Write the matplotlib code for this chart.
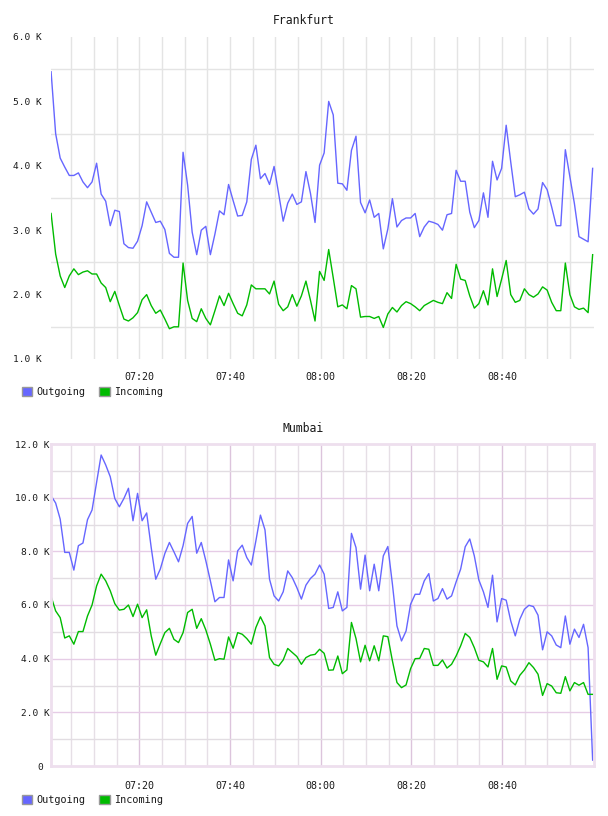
import numpy as np
import matplotlib
matplotlib.use("Agg")
import matplotlib.pyplot as plt
from matplotlib.patches import Patch

plt.rcParams['font.family'] = ['DejaVu Sans Mono']

# one sample per minute, minutes after 07:00
n_samples = 120
minutes = np.linspace(0.55, 120.0, n_samples)

# Frankfurt, in K
fra_out = [5.46, 4.50, 4.12, 3.98, 3.85, 3.85, 3.89, 3.75, 3.66, 3.75,
           4.04, 3.56, 3.45, 3.07, 3.31, 3.29, 2.79, 2.73, 2.72, 2.83,
           3.07, 3.44, 3.28, 3.12, 3.14, 3.01, 2.64, 2.58, 2.58, 4.21,
           3.70, 2.97, 2.62, 3.00, 3.06, 2.62, 2.94, 3.30, 3.24, 3.71,
           3.46, 3.22, 3.23, 3.44, 4.10, 4.32, 3.80, 3.88, 3.71, 3.99,
           3.57, 3.14, 3.42, 3.56, 3.40, 3.44, 3.91, 3.57, 3.12, 4.01,
           4.20, 5.00, 4.79, 3.73, 3.72, 3.62, 4.24, 4.46, 3.43, 3.27,
           3.47, 3.20, 3.26, 2.71, 3.02, 3.49, 3.05, 3.15, 3.19, 3.19,
           3.26, 2.90, 3.05, 3.14, 3.12, 3.09, 3.00, 3.24, 3.26, 3.93,
           3.76, 3.76, 3.28, 3.04, 3.15, 3.58, 3.20, 4.07, 3.78, 3.96,
           4.63, 4.06, 3.52, 3.55, 3.59, 3.33, 3.25, 3.33, 3.74, 3.63,
           3.36, 3.07, 3.07, 4.25, 3.83, 3.41, 2.90, 2.86, 2.82, 3.96]
fra_in = [3.26, 2.63, 2.29, 2.11, 2.29, 2.40, 2.31, 2.35, 2.37, 2.32,
          2.32, 2.18, 2.11, 1.89, 2.05, 1.83, 1.62, 1.59, 1.64, 1.72,
          1.92, 2.00, 1.83, 1.71, 1.76, 1.62, 1.47, 1.50, 1.50, 2.49,
          1.91, 1.63, 1.58, 1.78, 1.63, 1.53, 1.75, 1.98, 1.83, 2.02,
          1.86, 1.71, 1.67, 1.84, 2.15, 2.09, 2.09, 2.09, 2.01, 2.21,
          1.85, 1.75, 1.81, 2.00, 1.82, 1.98, 2.21, 1.91, 1.59, 2.36,
          2.22, 2.70, 2.26, 1.81, 1.84, 1.78, 2.14, 2.09, 1.65, 1.66,
          1.66, 1.63, 1.66, 1.49, 1.70, 1.80, 1.73, 1.83, 1.89, 1.86,
          1.81, 1.75, 1.83, 1.87, 1.91, 1.88, 1.86, 2.03, 1.94, 2.47,
          2.24, 2.22, 1.98, 1.79, 1.86, 2.06, 1.84, 2.40, 1.97, 2.24,
          2.53, 2.00, 1.88, 1.91, 2.09, 2.00, 1.96, 2.01, 2.12, 2.07,
          1.88, 1.75, 1.75, 2.49, 2.00, 1.81, 1.77, 1.79, 1.72, 2.62]

# Mumbai, in K
bom_out = [10.07, 9.80, 9.20, 7.96, 7.96, 7.30, 8.21, 8.31, 9.18, 9.54,
           10.57, 11.59, 11.22, 10.78, 9.97, 9.66, 9.97, 10.35, 9.14, 10.16,
           9.14, 9.43, 8.14, 6.96, 7.34, 7.92, 8.33, 7.98, 7.61, 8.21,
           9.04, 9.30, 7.93, 8.33, 7.65, 6.90, 6.12, 6.28, 6.28, 7.68,
           6.90, 8.02, 8.23, 7.77, 7.49, 8.39, 9.35, 8.80, 6.96, 6.34,
           6.15, 6.49, 7.27, 7.02, 6.65, 6.22, 6.74, 6.99, 7.15, 7.49,
           7.15, 5.87, 5.91, 6.49, 5.78, 5.91, 8.67, 8.14, 6.59, 7.86,
           6.53, 7.52, 6.53, 7.83, 8.18, 6.78, 5.22, 4.66, 5.03, 6.03,
           6.40, 6.40, 6.90, 7.17, 6.15, 6.24, 6.61, 6.22, 6.34, 6.86,
           7.34, 8.17, 8.46, 7.83, 6.93, 6.49, 5.91, 7.11, 5.37, 6.24,
           6.18, 5.41, 4.85, 5.47, 5.84, 5.99, 5.94, 5.62, 4.33, 5.00,
           4.85, 4.51, 4.41, 5.59, 4.54, 5.10, 4.79, 5.28, 4.41, 0.22]
bom_in = [6.32, 5.78, 5.53, 4.77, 4.85, 4.54, 5.01, 5.01, 5.59, 6.00,
          6.71, 7.15, 6.90, 6.53, 6.05, 5.81, 5.84, 6.00, 5.57, 6.03,
          5.53, 5.82, 4.85, 4.13, 4.56, 4.97, 5.13, 4.72, 4.60, 4.97,
          5.72, 5.84, 5.13, 5.49, 5.07, 4.54, 3.94, 4.00, 3.98, 4.81,
          4.39, 4.97, 4.91, 4.75, 4.54, 5.16, 5.56, 5.22, 4.04, 3.79,
          3.73, 3.95, 4.38, 4.23, 4.08, 3.79, 4.04, 4.13, 4.16, 4.35,
          4.20, 3.57, 3.58, 4.10, 3.44, 3.58, 5.35, 4.75, 3.88, 4.50,
          3.92, 4.48, 3.92, 4.85, 4.82, 3.92, 3.11, 2.92, 3.02, 3.63,
          4.00, 4.01, 4.38, 4.35, 3.75, 3.75, 3.95, 3.65, 3.79, 4.10,
          4.48, 4.94, 4.79, 4.41, 3.94, 3.88, 3.69, 4.38, 3.23, 3.73,
          3.69, 3.17, 3.02, 3.38, 3.58, 3.85, 3.67, 3.42, 2.63, 3.07,
          2.98, 2.73, 2.71, 3.33, 2.80, 3.11, 3.01, 3.11, 2.67, 2.67]

time_ticks = [20, 40, 60, 80, 100]
time_labels = ["07:20", "07:40", "08:00", "08:20", "08:40"]
grid_minutes = list(range(5, 120, 5))

OUT_COLOR = "#6666ff"
IN_COLOR = "#00bb00"
TEXT = "#1a1a1a"

fig = plt.figure(figsize=(6.08, 8.16), dpi=100)
W, H = 608, 816


def px_axes(left, top, right, bottom):
    return fig.add_axes([left / W, 1 - bottom / H, (right - left) / W, (bottom - top) / H])


def add_legend(y_px):
    handles = [Patch(facecolor=OUT_COLOR, edgecolor="#999999", label="Outgoing"),
               Patch(facecolor=IN_COLOR, edgecolor="#999999", label="Incoming")]
    fig.legend(handles=handles, loc="center left",
               bbox_to_anchor=(22 / W, 1 - y_px / H), ncol=2, frameon=False,
               fontsize=7.3, handlelength=1.0, handleheight=1.0,
               handletextpad=0.4, columnspacing=1.4, borderpad=0,
               borderaxespad=0, labelcolor=TEXT)


# ---------- Frankfurt ----------
ax1 = px_axes(51, 37, 594, 359)
for m in grid_minutes:
    ax1.axvline(m, color="#e4e4e4", lw=1.0, zorder=0)
for v in [1.5, 2.5, 3.5, 4.5, 5.5]:
    ax1.axhline(v, color="#e4e4e4", lw=1.0, zorder=0)
ax1.plot(minutes, fra_out, color=OUT_COLOR, lw=1.0)
ax1.plot(minutes, fra_in, color=IN_COLOR, lw=1.0)
ax1.set_xlim(0.53, 120.3)
ax1.set_ylim(1.0, 6.0)
ax1.set_yticks([1, 2, 3, 4, 5, 6], [f"{v:.1f} K" for v in [1, 2, 3, 4, 5, 6]])
ax1.set_xticks(time_ticks, time_labels)
for s in ax1.spines.values():
    s.set_visible(False)
ax1.tick_params(axis="y", length=0, pad=7, labelsize=6.8, labelcolor=TEXT)
ax1.tick_params(axis="x", length=0, pad=9, labelsize=7.2, labelcolor=TEXT)
fig.text(304 / W, 1 - 20 / H, "Frankfurt", ha="center", va="center",
         fontsize=8.3, color=TEXT)
add_legend(392)

# ---------- Mumbai ----------
ax2 = px_axes(51, 444, 594, 766)
for m in grid_minutes:
    major = m % 20 == 0
    ax2.axvline(m, color="#dcc4dc" if major else "#e6dfe6", lw=1.0, zorder=0)
for v in range(1, 12):
    major = v % 2 == 0
    ax2.axhline(v, color="#e6cce6" if major else "#e2dde2", lw=1.0, zorder=0)
ax2.plot(minutes, bom_out, color=OUT_COLOR, lw=1.0)
ax2.plot(minutes, bom_in, color=IN_COLOR, lw=1.0)
ax2.set_xlim(0.53, 120.3)
ax2.set_ylim(0, 12)
bom_ticks = [0, 2, 4, 6, 8, 10, 12]
ax2.set_yticks(bom_ticks, ["0 "] + [f"{v:.1f} K" for v in bom_ticks[1:]])
ax2.set_xticks(time_ticks, time_labels)
for s in ax2.spines.values():
    s.set_color("#eedfee")
    s.set_linewidth(2.0)
ax2.tick_params(axis="y", length=0, pad=1, labelsize=6.8, labelcolor=TEXT)
ax2.tick_params(axis="x", length=0, pad=11, labelsize=7.2, labelcolor=TEXT)
fig.text(303 / W, 1 - 428 / H, "Mumbai", ha="center", va="center",
         fontsize=8.3, color=TEXT)
add_legend(800)

fig.savefig("out.png", dpi=100)
plt.close(fig)
